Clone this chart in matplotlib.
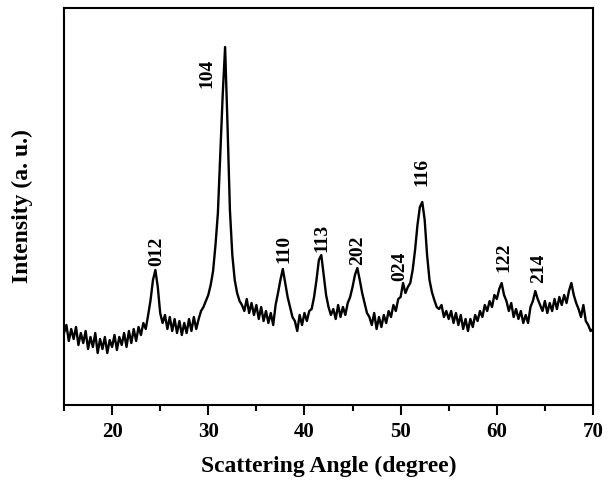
import numpy as np
import matplotlib
matplotlib.use("Agg")
import matplotlib.pyplot as plt
from matplotlib.ticker import MultipleLocator

# Scattering angle grid (degrees) and intensity (a. u.)
angle_start = 15.0
angle_step = 0.25
intensity = [
    72, 80, 64, 76,   66, 78, 60, 72,   62, 74, 56, 68,   58, 72, 52, 66,
    56, 68, 52, 65,   58, 70, 55, 68,   60, 72, 58, 74,   62, 76, 64, 78,
    70, 82, 76, 90,   105, 125, 135, 118,   92, 82, 90, 76,   88, 74, 86, 72,
    84, 70, 82, 72,   86, 74, 88, 76,   86, 94, 98, 104,   110, 120, 134, 160,
    192, 250, 310, 358,   280, 195, 150, 125,   112, 104, 100, 94,   106, 92, 102, 90,
    100, 86, 98, 84,   94, 82, 92, 80,   100, 112, 125, 136,   122, 108, 98, 88,
    84, 74, 90, 80,   92, 84, 94, 96,   108, 125, 145, 150,   130, 110, 98, 90,
    96, 86, 100, 88,   98, 90, 102, 108,   118, 130, 137, 125,   112, 102, 92, 88,
    80, 92, 76, 88,   78, 90, 82, 94,   88, 100, 94, 106,   108, 122, 112, 118,
    122, 135, 155, 180,   198, 203, 185, 150,   125, 113, 105, 98,   96, 100, 88, 94,
    86, 94, 82, 92,   80, 90, 76, 86,   74, 86, 78, 90,   84, 94, 88, 100,
    94, 104, 98, 110,   106, 116, 122, 110,   104, 94, 102, 88,   96, 86, 94, 82,
    90, 82, 98, 104,   114, 106, 100, 94,   104, 92, 102, 94,   106, 96, 108, 100,
    110, 102, 114, 122,   110, 102, 96, 88,   100, 84, 80, 74,
    76,
]
angle = angle_start + angle_step * np.arange(len(intensity))

# Peak (hkl) labels: position in degrees and label height (a. u.)
hkl_labels = ["012", "104", "110", "113", "202", "024", "116", "122", "214"]
hkl_angle = [24.65, 29.85, 37.9, 41.8, 45.5, 49.9, 52.2, 60.75, 64.3]
hkl_height = [154, 332, 156, 167, 155, 139, 233, 148, 137]

serif = ["Liberation Serif", "DejaVu Serif"]

fig = plt.figure(figsize=(6.08, 4.84), dpi=100)
ax = fig.add_axes([64 / 608, 1 - 405 / 484, (593 - 64) / 608, (405 - 8) / 484])
ax.plot(angle, intensity, color="black", lw=1.7)

for lab, xa, ya in zip(hkl_labels, hkl_angle, hkl_height):
    ax.text(xa, ya, lab, rotation=90, ha="center", va="center",
            fontsize=14, fontweight="bold", family=serif)

ax.set_xlim(15, 70)
ax.set_ylim(0, 397)
ax.xaxis.set_major_locator(MultipleLocator(10))
ax.xaxis.set_minor_locator(MultipleLocator(5))
ax.set_yticks([])
ax.tick_params(axis="x", which="major", direction="out", length=7, width=1.5,
               labelsize=15, pad=5)
ax.tick_params(axis="x", which="minor", direction="out", length=4, width=1.5)
ax.tick_params(top=False, right=False)
for lbl in ax.get_xticklabels():
    lbl.set_fontweight("bold")
    lbl.set_family(serif)
for sp in ax.spines.values():
    sp.set_linewidth(1.5)

ax.set_xlabel("Scattering Angle (degree)", fontsize=17, fontweight="bold",
              family=serif, labelpad=10)
ax.set_ylabel("Intensity (a. u.)", fontsize=17, fontweight="bold",
              family=serif, labelpad=22)

fig.savefig("out.png", dpi=100)
